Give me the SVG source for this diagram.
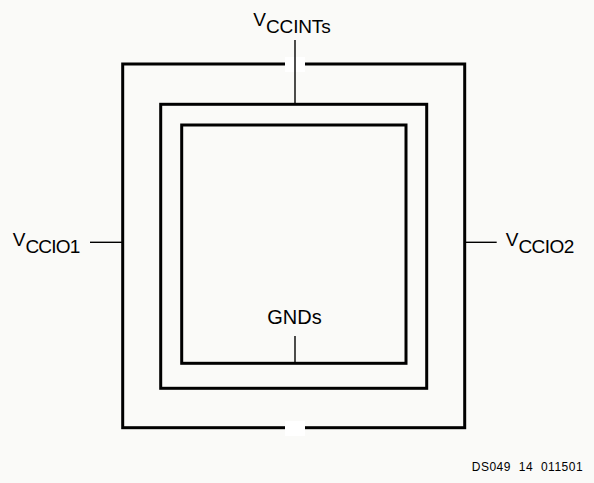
<svg xmlns="http://www.w3.org/2000/svg" width="594" height="483" viewBox="0 0 594 483">
<style>
.box{fill:none;stroke:#000;stroke-width:3}
.wire{fill:none;stroke:#000;stroke-width:1.4}
.lbl{font-family:"Liberation Sans",Arial,sans-serif;font-size:19px;fill:#000}
.small{font-family:"Liberation Sans",Arial,sans-serif;font-size:12px;fill:#000}
</style>
<rect x="0" y="0" width="594" height="483" fill="#fafaf8"/>
<g id="outer-ring">
<rect class="box" x="122.7" y="64" width="342" height="363.7"/>
<rect x="285" y="57" width="20" height="15" fill="#fff"/>
<rect x="285" y="421" width="20" height="15" fill="#fff"/>
</g>
<g id="middle-ring">
<rect class="box" x="160.7" y="104.3" width="266" height="284"/>
</g>
<g id="inner-ring">
<rect class="box" x="181.7" y="125" width="224.3" height="238.3"/>
</g>
<g id="connectors">
<line class="wire" x1="295" y1="40" x2="295" y2="104"/>
<line class="wire" x1="90" y1="242.3" x2="122" y2="242.3"/>
<line class="wire" x1="466" y1="242.3" x2="496.7" y2="242.3"/>
<line class="wire" x1="295" y1="336" x2="295" y2="363"/>
</g>
<g id="label-vccints">
<text class="lbl" x="253.3" y="25.5">V<tspan dy="7.3" textLength="64.7">CCINTs</tspan></text>
</g>
<g id="label-vccio1">
<text class="lbl" x="12.7" y="245.5">V<tspan dy="7.3" textLength="55">CCIO1</tspan></text>
</g>
<g id="label-vccio2">
<text class="lbl" x="505.7" y="245.5">V<tspan dy="7.3" textLength="56">CCIO2</tspan></text>
</g>
<g id="label-gnds">
<text class="lbl" x="294.5" y="324" text-anchor="middle" style="font-size:20px">GNDs</text>
</g>
<g id="figure-id">
<text class="small" x="471.7" y="470.7" textLength="111" xml:space="preserve">DS049  14  011501</text>
</g>
</svg>
